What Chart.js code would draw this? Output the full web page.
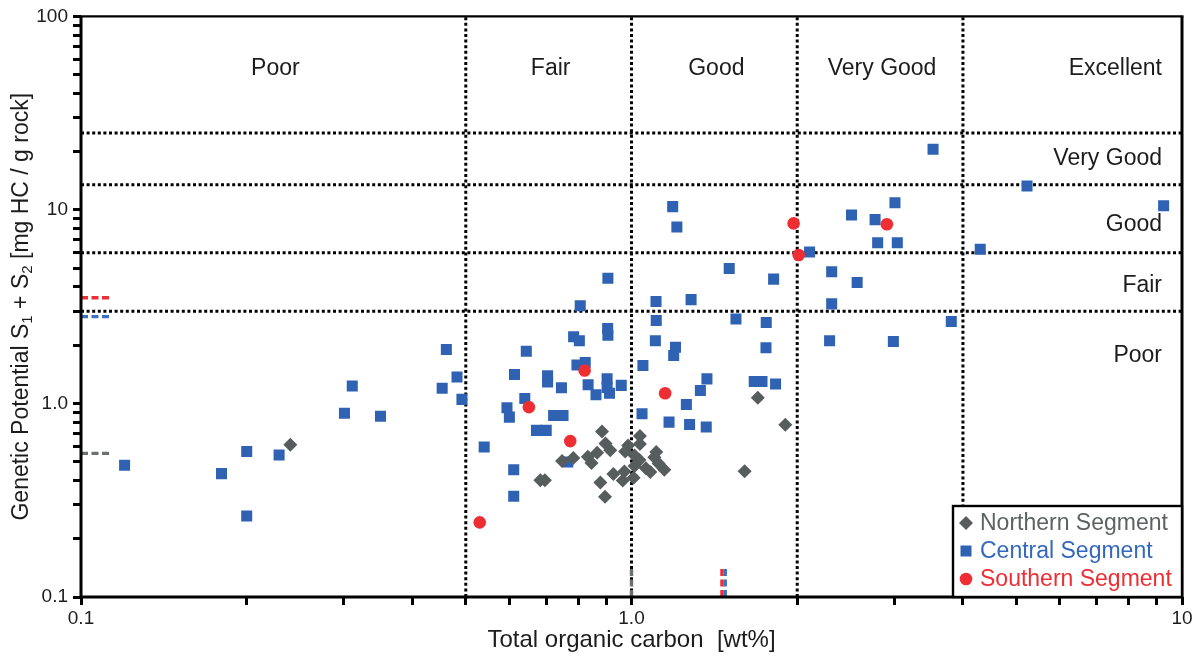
<!DOCTYPE html>
<html>
<head>
<meta charset="utf-8">
<script src="https://cdn.jsdelivr.net/npm/chart.js@4.4.1/dist/chart.umd.min.js"></script>
<style>
  html, body { margin: 0; padding: 0; background: #ffffff; }
  canvas { display: block; }
</style>
</head>
<body>
<canvas id="chart" width="1198" height="658"></canvas>
<script>
const FONT = '"Liberation Sans", Arial, Helvetica, sans-serif';
const TEXT = '#1c1c1c';

// Sample series: total organic carbon [wt%] and S1 + S2 [mg HC / g rock]
const segmentNames = ['Northern Segment', 'Central Segment', 'Southern Segment'];

const northernTOC = [0.240, 0.884, 0.897, 0.915, 0.866, 0.833, 0.846, 0.784, 0.748, 0.683, 0.696,
  0.878, 0.895, 0.927, 0.971, 0.964, 1.009, 1.036, 1.036, 0.986, 0.974, 1.013, 1.034, 1.013,
  1.062, 1.082, 1.109, 1.100, 1.120, 1.147, 1.696, 1.903, 1.605];
const northernS1S2 = [0.612, 0.716, 0.622, 0.573, 0.556, 0.531, 0.492, 0.522, 0.504, 0.401, 0.401,
  0.391, 0.330, 0.432, 0.445, 0.400, 0.413, 0.680, 0.617, 0.607, 0.564, 0.539, 0.510, 0.475,
  0.462, 0.442, 0.561, 0.527, 0.489, 0.455, 1.07, 0.777, 0.446];

const centralTOC = [0.120, 0.180, 0.200, 0.200, 0.229, 0.301, 0.311, 0.350, 0.453, 0.461, 0.482, 0.492,
  0.785, 0.804, 0.906, 0.905, 0.644, 0.824, 0.796, 0.613, 0.704, 0.704, 0.746, 0.834, 0.903, 0.903,
  0.958, 0.862, 0.912, 0.640, 0.594, 0.600, 0.722, 0.751, 0.672, 0.700, 0.540, 0.611, 0.766, 0.611,
  1.105, 1.202, 1.193, 1.049, 1.371, 1.334, 1.258, 1.045, 1.170, 1.275, 1.367, 1.755, 1.671, 1.726, 1.827,
  1.188, 1.209, 2.106, 1.505, 1.812, 0.906, 1.108, 1.283, 0.807, 1.109, 1.548, 1.757,
  3.53, 5.23, 9.26, 3.01, 2.51, 2.77, 2.80, 3.04, 4.30, 2.31, 2.57, 2.31, 3.81, 2.29, 2.99];
const centralS1S2 = [0.479, 0.434, 0.564, 0.262, 0.541, 0.891, 1.23, 0.860, 1.20, 1.90, 1.37, 1.05,
  2.21, 2.11, 2.25, 2.44, 1.86, 1.63, 1.58, 1.41, 1.39, 1.29, 1.205, 1.25, 1.34, 1.21,
  1.24, 1.11, 1.13, 1.06, 0.950, 0.850, 0.867, 0.867, 0.726, 0.726, 0.595, 0.455, 0.498, 0.332,
  2.11, 1.95, 1.77, 1.57, 1.34, 1.167, 0.988, 0.885, 0.801, 0.779, 0.755, 1.94, 1.30, 1.30, 1.26,
  10.4, 8.17, 6.07, 4.98, 4.39, 4.44, 3.36, 3.44, 3.20, 2.68, 2.73, 2.62,
  20.6, 13.3, 10.5, 10.9, 9.42, 8.91, 6.76, 6.76, 6.27, 4.79, 4.22, 3.27, 2.65, 2.11, 2.09];

const southernTOC = [0.822, 0.651, 1.151, 0.774, 0.530, 1.970, 2.012, 2.91];
const southernS1S2 = [1.48, 0.957, 1.13, 0.639, 0.243, 8.52, 5.85, 8.44];

// Segment medians (Northern, Central, Southern)
const medianS1S2 = [0.552, 2.81, 3.52];
const medianTOC = [1.0, 1.48, 1.46];

// Source-rock quality classes
const tocClasses = ['Poor', 'Fair', 'Good', 'Very Good', 'Excellent'];
const tocLimits = [0.5, 1, 2, 4];
const potentialClasses = ['Poor', 'Fair', 'Good', 'Very Good'];
const potentialLimits = [3, 6, 13.5, 25];

// Axis tick labels
const xLabelValues = [0.1, 1, 10];
const xLabelText = ['0.1', '1.0', '10'];
const yLabelValues = [0.1, 1, 10, 100];
const yLabelText = ['0.1', '1.0', '10', '100'];
const tickMultiples = [1, 2, 3, 4, 5, 6, 7, 8, 9];

const COLORS = {
  northern: '#565d5c', northernText: '#5d6362', northernMedian: '#6b706f',
  central: '#2f62b3', centralText: '#3468bd', centralMedian: '#3d6fc2',
  southern: '#ee2e33', southernText: '#ee2e33', southernMedian: '#ee2e33'
};

function zip(xs, ys) { return xs.map((x, i) => ({ x: x, y: ys[i] })); }

function logTicks(min, max) {
  const out = [];
  for (let p = Math.log10(min); p < Math.log10(max); p++) {
    tickMultiples.forEach(m => out.push(+(m * Math.pow(10, p)).toPrecision(6)));
  }
  out.push(max);
  return out.map(v => ({ value: v }));
}

function labelFor(values, texts, value) {
  const i = values.findIndex(v => Math.abs(v - value) / v < 1e-6);
  return i >= 0 ? texts[i] : '';
}

const dotted = { borderColor: '#000', borderWidth: 3, borderDash: [3, 2.6], pointRadius: 0,
  showLine: true, fill: false, order: 20, borderCapStyle: 'butt' };

const datasets = [];
tocLimits.forEach(v => datasets.push(Object.assign({ data: [{ x: v, y: 0.1 }, { x: v, y: 100 }] }, dotted)));
potentialLimits.forEach(v => datasets.push(Object.assign({ data: [{ x: 0.1, y: v }, { x: 10, y: v }] }, dotted)));

datasets.push({ label: segmentNames[1], data: zip(centralTOC, centralS1S2), pointStyle: 'rect',
  pointRadius: 7.8, backgroundColor: COLORS.central, borderColor: COLORS.central, borderWidth: 0, order: 5 });
datasets.push({ label: segmentNames[0], data: zip(northernTOC, northernS1S2), pointStyle: 'rectRot',
  pointRadius: 7, backgroundColor: COLORS.northern, borderColor: COLORS.northern, borderWidth: 0, order: 4 });
datasets.push({ label: segmentNames[2], data: zip(southernTOC, southernS1S2), pointStyle: 'circle',
  pointRadius: 6.3, backgroundColor: COLORS.southern, borderColor: COLORS.southern, borderWidth: 0, order: 3 });

// Median markers: short dashes on the S1+S2 axis and on the TOC axis
const medianColors = [COLORS.northernMedian, COLORS.centralMedian, COLORS.southernMedian];
const dashed = { borderWidth: 3.4, borderDash: [7, 3.5], pointRadius: 0, showLine: true, fill: false, order: 1 };
medianS1S2.forEach((v, i) => datasets.push(Object.assign({
  data: [{ x: 0.1, y: v }, { x: 0.113, y: v }], borderColor: medianColors[i] }, dashed)));
medianTOC.forEach((v, i) => datasets.push(Object.assign({
  data: [{ x: v, y: 0.1 }, { x: v, y: 0.141 }], borderColor: medianColors[i] }, dashed)));

function drawMarker(ctx, style, x, y, color) {
  ctx.fillStyle = color;
  ctx.beginPath();
  if (style === 'rectRot') {
    const r = 7;
    ctx.moveTo(x, y - r); ctx.lineTo(x + r, y); ctx.lineTo(x, y + r); ctx.lineTo(x - r, y);
    ctx.closePath();
  } else if (style === 'rect') {
    ctx.rect(x - 5.5, y - 5.5, 11, 11);
  } else {
    ctx.arc(x, y, 6.3, 0, Math.PI * 2);
  }
  ctx.fill();
}

const overlay = {
  id: 'overlay',
  afterDatasetsDraw(chart) {
    const ctx = chart.ctx;
    const a = chart.chartArea;
    const xs = chart.scales.x, ys = chart.scales.y;
    ctx.save();

    // plot frame
    ctx.strokeStyle = '#000';
    ctx.lineWidth = 3;
    ctx.beginPath();
    ctx.moveTo(a.left, a.top); ctx.lineTo(a.left, a.bottom); ctx.lineTo(a.right, a.bottom); ctx.lineTo(a.right, a.top);
    ctx.stroke();
    ctx.lineWidth = 2.2;
    ctx.beginPath();
    ctx.moveTo(a.left - 1.5, a.top); ctx.lineTo(a.right + 1.5, a.top);
    ctx.stroke();

    // TOC class names along the top
    ctx.fillStyle = TEXT;
    ctx.font = '23px ' + FONT;
    ctx.textBaseline = 'middle';
    const edges = [0.1].concat(tocLimits, [10]);
    const rowY = ys.getPixelForValue(54);
    tocClasses.forEach((name, i) => {
      if (i === tocClasses.length - 1) {
        ctx.textAlign = 'right';
        ctx.fillText(name, a.right - 20, rowY);
      } else {
        ctx.textAlign = 'center';
        const cx = xs.getPixelForValue(Math.sqrt(edges[i] * edges[i + 1])) + 2;
        ctx.fillText(name, cx, rowY);
      }
    });

    // S1+S2 class names on the right
    const anchors = [1.77, 4.06, 8.37, 18.3];
    ctx.textAlign = 'right';
    potentialClasses.forEach((name, i) => {
      ctx.fillText(name, a.right - 20, ys.getPixelForValue(anchors[i]));
    });

    // y-axis title with subscripts
    const parts = [
      { t: 'Genetic Potential S', sub: false }, { t: '1', sub: true },
      { t: ' + S', sub: false }, { t: '2', sub: true },
      { t: ' [mg HC / g rock]', sub: false }
    ];
    const bigFont = '23px ' + FONT, smallFont = '15px ' + FONT;
    let total = 0;
    parts.forEach(p => { ctx.font = p.sub ? smallFont : bigFont; p.w = ctx.measureText(p.t).width; total += p.w; });
    ctx.translate(22, (a.top + a.bottom) / 2);
    ctx.rotate(-Math.PI / 2);
    ctx.textAlign = 'left';
    let px = -total / 2;
    parts.forEach(p => {
      ctx.font = p.sub ? smallFont : bigFont;
      ctx.fillText(p.t, px, p.sub ? 6 : 0);
      px += p.w;
    });
    ctx.setTransform(1, 0, 0, 1, 0, 0);

    // legend box
    const bx = 953, by = 506, bw = a.right - bx, bh = a.bottom - by;
    ctx.fillStyle = '#fff';
    ctx.fillRect(bx, by, bw, bh);
    ctx.strokeStyle = '#000';
    ctx.lineWidth = 2.4;
    ctx.strokeRect(bx, by, bw, bh);
    const items = [
      { style: 'rectRot', color: COLORS.northern, text: COLORS.northernText },
      { style: 'rect', color: COLORS.central, text: COLORS.centralText },
      { style: 'circle', color: COLORS.southern, text: COLORS.southernText }
    ];
    ctx.font = '23px ' + FONT;
    ctx.textAlign = 'left';
    ctx.textBaseline = 'middle';
    items.forEach((it, i) => {
      const y = by + 17 + i * 28;
      drawMarker(ctx, it.style, bx + 13, y, it.color);
      ctx.fillStyle = it.text;
      ctx.fillText(segmentNames[i], bx + 27, y + 1);
    });
    ctx.restore();
  }
};

new Chart(document.getElementById('chart'), {
  type: 'scatter',
  data: { datasets: datasets },
  options: {
    responsive: false,
    animation: false,
    devicePixelRatio: 1,
    events: [],
    layout: { padding: { top: 15, right: 16, left: 0, bottom: 0 } },
    plugins: { legend: { display: false }, tooltip: { enabled: false } },
    scales: {
      x: {
        type: 'logarithmic', min: 0.1, max: 10,
        afterBuildTicks: s => { s.ticks = logTicks(0.1, 10); },
        afterFit: s => { s.height = 61; },
        border: { display: false },
        grid: { drawOnChartArea: false, drawTicks: true, tickLength: 8, tickWidth: 3, tickColor: '#000', color: '#000' },
        ticks: {
          autoSkip: false, maxRotation: 0, padding: 2, color: TEXT,
          font: { family: FONT, size: 19 },
          callback: v => labelFor(xLabelValues, xLabelText, v)
        },
        title: {
          display: true, text: 'Total organic carbon  [wt%]', color: TEXT,
          font: { family: FONT, size: 24 }, padding: { top: 0, bottom: 3 }
        }
      },
      y: {
        type: 'logarithmic', min: 0.1, max: 100,
        afterBuildTicks: s => { s.ticks = logTicks(0.1, 100); },
        afterFit: s => { s.width = 81; },
        border: { display: false },
        grid: { drawOnChartArea: false, drawTicks: true, tickLength: 8, tickWidth: 3, tickColor: '#000', color: '#000' },
        ticks: {
          autoSkip: false, padding: 5, color: TEXT,
          font: { family: FONT, size: 19 },
          callback: v => labelFor(yLabelValues, yLabelText, v)
        }
      }
    }
  },
  plugins: [overlay]
});
</script>
</body>
</html>
